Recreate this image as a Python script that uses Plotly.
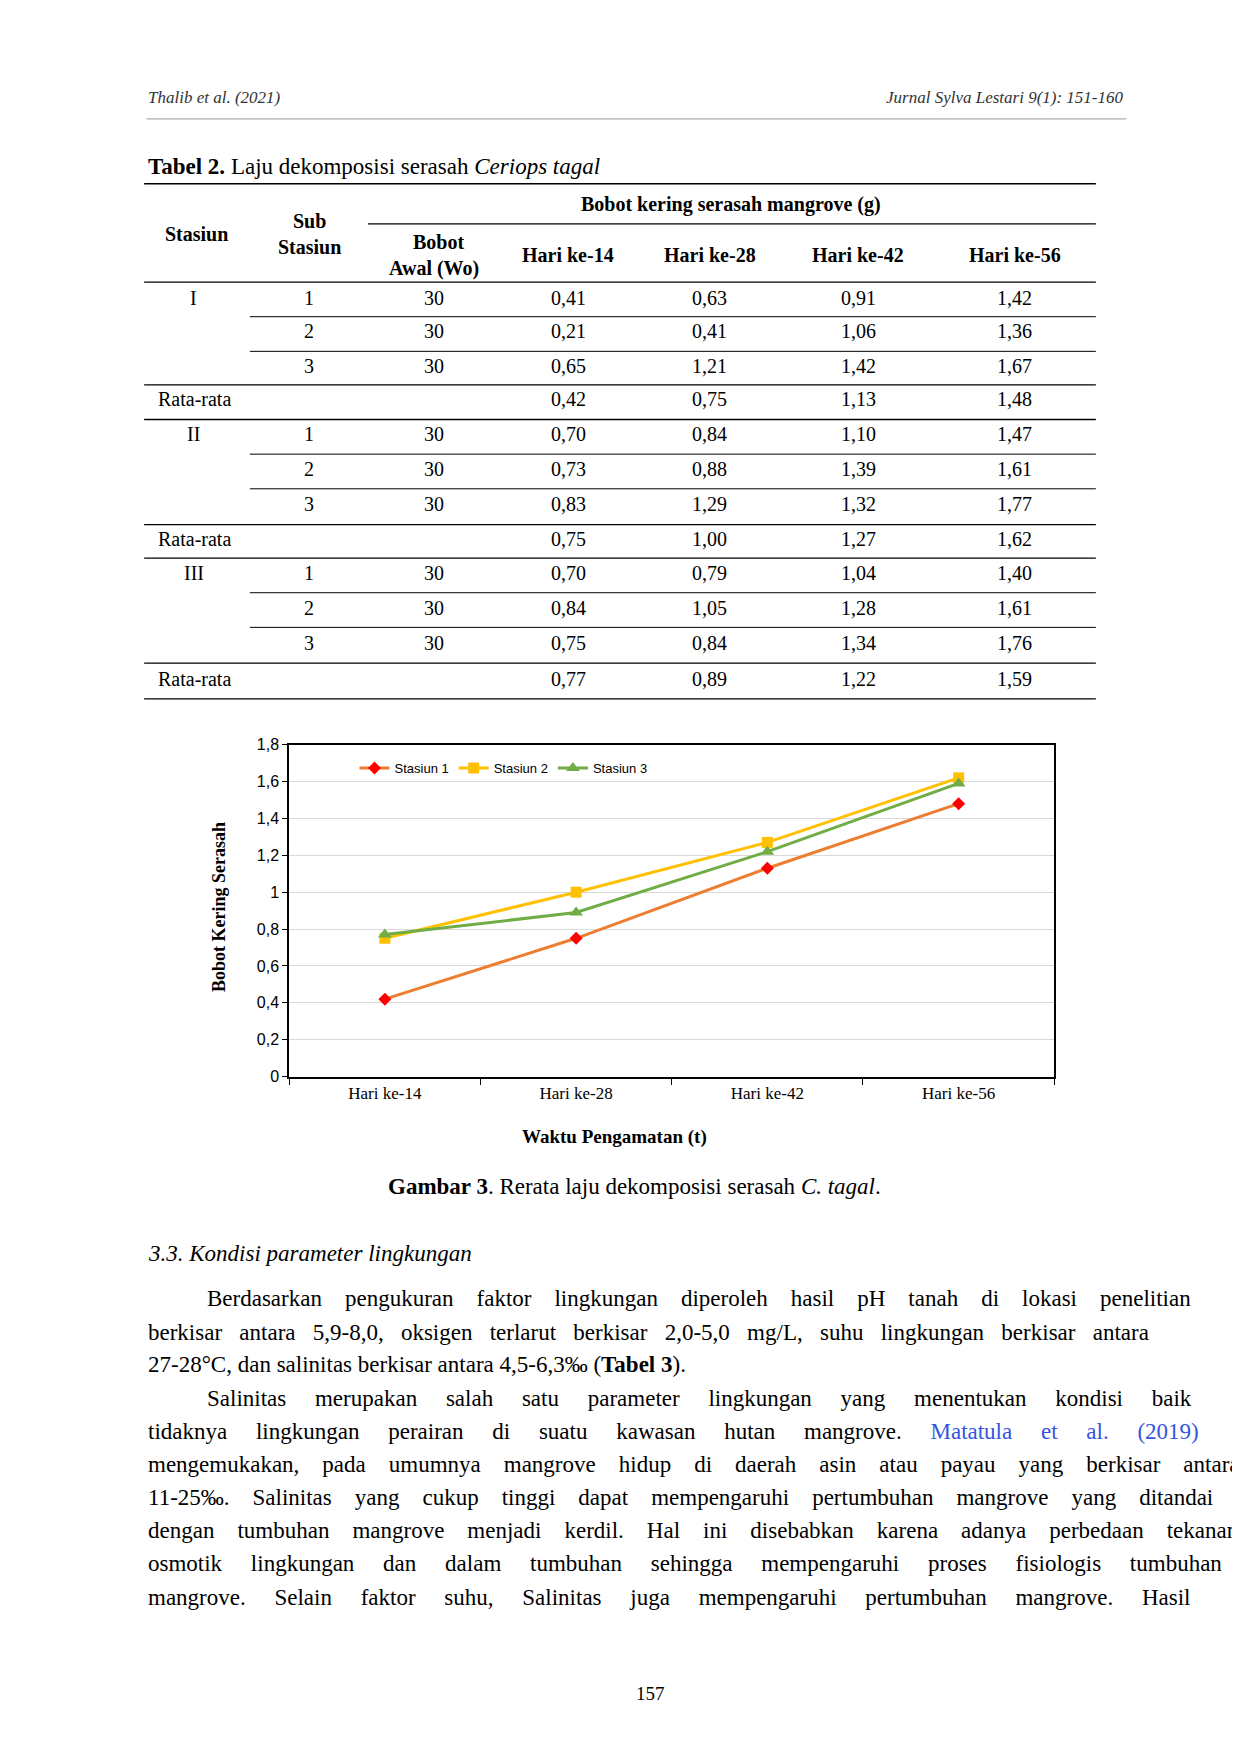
import plotly.graph_objects as go

W, H = 1240, 1754
S = 1240 / 1110  # reading scale from the page picture

def px(x):
    return ((x - 10) / 0.993) * S / W

def py(y):
    return 1 - ((y - 14.9) / 0.990) * S / H

# data
hari = ['Hari ke-14', 'Hari ke-28', 'Hari ke-42', 'Hari ke-56']
stasiun1 = [0.42, 0.75, 1.13, 1.48]
stasiun2 = [0.75, 1.00, 1.27, 1.62]
stasiun3 = [0.77, 0.89, 1.22, 1.59]

tabel_stasiun = ['I', '', '', 'Rata-rata', 'II', '', '', 'Rata-rata', 'III', '', '', 'Rata-rata']
tabel_sub = ['1', '2', '3', '', '1', '2', '3', '', '1', '2', '3', '']
tabel_awal = ['30', '30', '30', '', '30', '30', '30', '', '30', '30', '30', '']
tabel_h14 = ['0,41', '0,21', '0,65', '0,42', '0,70', '0,73', '0,83', '0,75', '0,70', '0,84', '0,75', '0,77']
tabel_h28 = ['0,63', '0,41', '1,21', '0,75', '0,84', '0,88', '1,29', '1,00', '0,79', '1,05', '0,84', '0,89']
tabel_h42 = ['0,91', '1,06', '1,42', '1,13', '1,10', '1,39', '1,32', '1,27', '1,04', '1,28', '1,34', '1,22']
tabel_h56 = ['1,42', '1,36', '1,67', '1,48', '1,47', '1,61', '1,77', '1,62', '1,40', '1,61', '1,76', '1,59']

paragraf = [
    'Berdasarkan pengukuran faktor lingkungan diperoleh hasil pH tanah di lokasi penelitian',
    'berkisar antara 5,9-8,0, oksigen terlarut berkisar 2,0-5,0 mg/L, suhu lingkungan berkisar antara',
    '27-28°C, dan salinitas berkisar antara 4,5-6,3‰ (<b>Tabel 3</b>).',
    'Salinitas merupakan salah satu parameter lingkungan yang menentukan kondisi baik',
    'tidaknya lingkungan perairan di suatu kawasan hutan mangrove. <span style="color:#3355dd">Matatula et al. (2019)</span>',
    'mengemukakan, pada umumnya mangrove hidup di daerah asin atau payau yang berkisar antara',
    '11-25‰. Salinitas yang cukup tinggi dapat mempengaruhi pertumbuhan mangrove yang ditandai',
    'dengan tumbuhan mangrove menjadi kerdil. Hal ini disebabkan karena adanya perbedaan tekanan',
    'osmotik lingkungan dan dalam tumbuhan sehingga mempengaruhi proses fisiologis tumbuhan',
    'mangrove. Selain faktor suhu, Salinitas juga mempengaruhi pertumbuhan mangrove. Hasil',
]

SERIF = 'Liberation Serif'
NARROW = 'Liberation Sans Narrow, Liberation Sans'

fig = go.Figure()
fig.add_trace(go.Scatter(x=hari, y=stasiun1, name='Stasiun 1', mode='lines+markers',
                         line=dict(color='#ED7D31', width=3),
                         marker=dict(symbol='diamond', size=10, color='#FF0000')))
fig.add_trace(go.Scatter(x=hari, y=stasiun2, name='Stasiun 2', mode='lines+markers',
                         line=dict(color='#FFC000', width=3),
                         marker=dict(symbol='square', size=11, color='#FFC000')))
fig.add_trace(go.Scatter(x=hari, y=stasiun3, name='Stasiun 3', mode='lines+markers',
                         line=dict(color='#70AD47', width=3),
                         marker=dict(symbol='triangle-up', size=12, color='#70AD47')))

annots = []
shapes = []

def txt(x, y, t, size=21, anchor='left', font=SERIF, color='black', **kw):
    annots.append(dict(x=px(x), y=py(y), xref='paper', yref='paper', text=t, showarrow=False,
                       xanchor=anchor, yanchor='middle', font=dict(family=font, size=size, color=color), **kw))

def hline(y, x0, x1, color='black', width=1.3):
    shapes.append(dict(type='line', xref='paper', yref='paper', x0=px(x0), x1=px(x1),
                       y0=py(y), y1=py(y), line=dict(color=color, width=width)))

def justify(line, x0, x1):
    # crude justification: pad word gaps with non-breaking spaces
    import re
    plain = re.sub('<[^>]+>', '', line)
    natural = len(plain) * 8.8 / S
    gaps = line.count(' ') - line.count('<span ')
    extra = (x1 - x0) - natural
    n = max(0, int(round(extra / max(gaps, 1) / (5.75 / S))))
    out = []
    for i, w in enumerate(line.split(' ')):
        if w.startswith('style='):
            out[-1] += ' ' + w
        else:
            out.append(w)
    return ('&nbsp;' * (n + 1)).join(out) if n else line

# page header
txt(133, 88, '<i>Thalib et al. (2021)</i>', size=17, color='#333')
txt(1004, 88, '<i>Jurnal Sylva Lestari 9(1): 151-160</i>', size=17, anchor='right', color='#333')
hline(107, 133, 1004, color='#999', width=1)

# table
txt(133, 150, '<b>Tabel 2.</b> Laju dekomposisi serasah <i>Ceriops tagal</i>', size=23)
hline(165, 131, 977)
hline(201, 330, 977)
hline(253, 131, 977)
txt(178, 210, '<b>Stasiun</b>', size=20, anchor='center')
txt(278, 198, '<b>Sub</b>', size=20, anchor='center')
txt(278, 222, '<b>Stasiun</b>', size=20, anchor='center')
txt(653, 184, '<b>Bobot kering serasah mangrove (g)</b>', size=20, anchor='center')
txt(393, 217, '<b>Bobot</b>', size=20, anchor='center')
txt(389, 241, '<b>Awal (Wo)</b>', size=20, anchor='center')
for xc, h in zip([508, 634, 766, 905], hari):
    txt(xc, 229, '<b>' + h + '</b>', size=20, anchor='center')

row_y = [267, 297, 328, 358, 389, 420, 452, 483, 513, 545, 576, 608]
line_y = [284, 315, 345, 376, 407, 438, 470, 500, 531, 562, 594, 626]
cols = [tabel_sub, tabel_awal, tabel_h14, tabel_h28, tabel_h42, tabel_h56]
col_x = [278, 389, 508, 634, 766, 905]
for i, y in enumerate(row_y):
    s = tabel_stasiun[i]
    if s == 'Rata-rata':
        txt(142, y, s, size=20)
    elif s:
        txt(175, y, s, size=20, anchor='center')
    for c, xc in zip(cols, col_x):
        if c[i]:
            txt(xc, y, c[i], size=20, anchor='center')
    full = (i % 4) >= 2
    hline(line_y[i], 131 if full else 225, 977, width=1.3 if full else 1)

# chart axes titles
txt(197, 812, '<b>Bobot Kering Serasah</b>', size=18, anchor='center', textangle=-90)
txt(549, 1018, '<b>Waktu Pengamatan (t)</b>', size=19, anchor='center')

# caption, section and text
txt(567, 1062, '<b>Gambar 3</b>. Rerata laju dekomposisi serasah <i>C. tagal</i>.', size=23, anchor='center')
txt(133, 1122, '<i>3.3. Kondisi parameter lingkungan</i>', size=23)
par_y = [1163, 1193, 1222, 1252, 1282, 1311, 1341, 1370, 1400, 1430]
for i, (line, y) in enumerate(zip(paragraf, par_y)):
    x = 185 if i in (0, 3) else 133
    if i != 2:
        line = justify(line, x, 1004)
    txt(x, y, line, size=23)
txt(581, 1516, '157', size=19, anchor='center')

fig.update_layout(
    width=W, height=H, margin=dict(l=0, r=0, t=0, b=0),
    paper_bgcolor='white', plot_bgcolor='white',
    separators=',.', showlegend=True,
    legend=dict(orientation='h', x=px(318), y=py(688), xanchor='left', yanchor='middle',
                font=dict(family=NARROW, size=13, color='black'), bgcolor='rgba(0,0,0,0)'),
    xaxis=dict(domain=[px(260), px(940)], anchor='y', range=[-0.5, 3.5], showline=True,
               linecolor='black', linewidth=2, mirror=True, ticks='outside', tickson='boundaries',
               ticklen=6, tickcolor='black', tickfont=dict(family=SERIF, size=17, color='black'),
               fixedrange=True),
    yaxis=dict(domain=[py(964), py(667)], anchor='x', range=[0, 1.8], dtick=0.2, showline=True,
               linecolor='black', linewidth=2, mirror=True, ticks='outside', ticklen=5,
               tickcolor='black', gridcolor='#d9d9d9',
               tickfont=dict(family=NARROW, size=16, color='black')),
    annotations=annots, shapes=shapes,
)

fig.write_html('out.html')
